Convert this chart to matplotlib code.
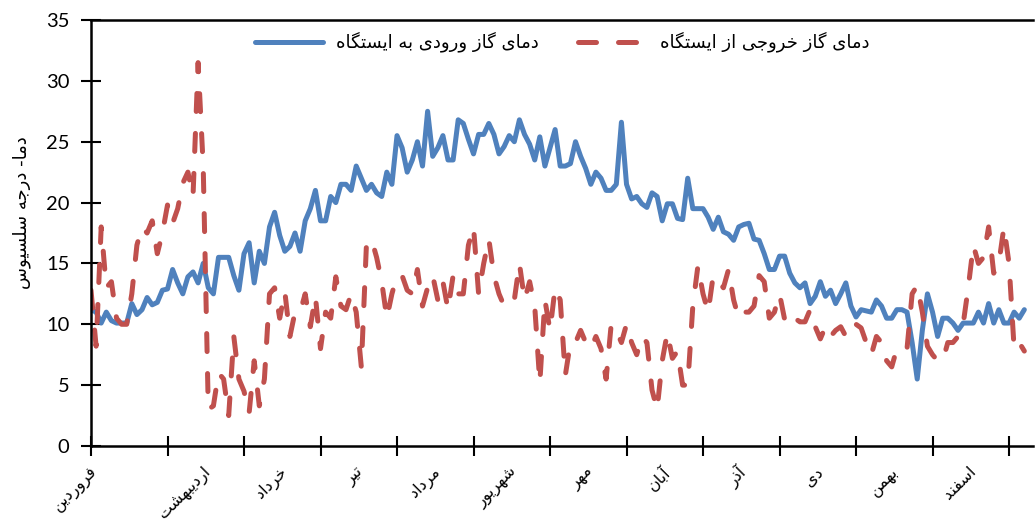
import numpy as np
import matplotlib
matplotlib.use("Agg")
import matplotlib.pyplot as plt
from matplotlib.transforms import blended_transform_factory

# sampling days (every second day of the year)
days = np.arange(0, 367, 2)

gas_in = [
    11.2, 11.0, 10.1, 11.0, 10.3, 10.1, 10.1, 10.1, 11.7, 10.8,
    11.2, 12.2, 11.6, 11.8, 12.8, 12.9, 14.5, 13.4, 12.5, 13.9,
    14.3, 13.4, 15.0, 13.0, 12.5, 15.5, 15.5, 15.5, 14.0, 12.8,
    15.8, 16.7, 13.4, 16.0, 15.0, 18.0, 19.2, 17.3, 16.0, 16.4,
    17.5, 16.0, 18.5, 19.5, 21.0, 18.5, 18.5, 20.5, 20.0, 21.5,
    21.5, 21.0, 23.0, 22.0, 21.0, 21.5, 20.8, 20.5, 22.5, 21.5,
    25.5, 24.5, 22.5, 23.5, 25.0, 23.0, 27.5, 23.8, 24.5, 25.5,
    23.5, 23.5, 26.8, 26.5, 25.2, 24.0, 25.6, 25.6, 26.5, 25.6,
    24.0, 24.6, 25.5, 25.0, 26.8, 25.6, 24.8, 23.5, 25.4, 23.0,
    24.5, 26.0, 23.0, 23.0, 23.2, 25.0, 23.8, 22.8, 21.5, 22.5,
    22.0, 21.0, 21.0, 21.5, 26.6, 21.5, 20.3, 20.5, 19.9, 19.6,
    20.8, 20.5, 18.5, 19.9, 19.9, 18.7, 18.6, 22.0, 19.5, 19.5,
    19.5, 18.8, 17.8, 18.8, 17.6, 17.4, 16.9, 18.0, 18.2, 18.3,
    17.0, 16.9, 15.8, 14.5, 14.5, 15.6, 15.6, 14.2, 13.4, 13.0,
    13.4, 11.7, 12.3, 13.5, 12.3, 12.8, 11.7, 12.5, 13.4, 11.5,
    10.6, 11.2, 11.1, 11.0, 12.0, 11.5, 10.5, 10.5, 11.2, 11.2,
    11.0, 8.5, 5.5, 9.5, 12.5, 11.0, 9.0, 10.5, 10.5, 10.1,
    9.5, 10.1, 10.1, 10.1, 11.0, 10.1, 11.7, 10.1, 11.2, 10.1,
    10.1, 11.0, 10.5, 11.2,
]

gas_out = [
    12.8, 8.2, 18.0, 13.0, 13.5, 10.5, 10.0, 10.0, 12.5, 16.5,
    18.0, 17.5, 18.5, 15.8, 17.5, 19.8, 18.3, 19.5, 21.6, 22.5,
    20.5, 31.5, 23.0, 3.0, 3.3, 6.0, 5.5, 2.5, 9.0, 5.5,
    4.5, 2.7, 7.0, 3.3, 5.5, 12.5, 13.0, 10.5, 12.7, 9.0,
    11.0, 11.0, 12.5, 9.8, 12.3, 8.0, 11.0, 10.5, 13.9, 11.5,
    11.2, 12.5, 11.0, 6.5, 16.5, 17.0, 15.5, 13.5, 10.5, 12.5,
    14.0, 14.0, 12.8, 12.5, 14.5, 11.5, 13.0, 14.0, 12.0, 13.5,
    11.2, 14.0, 12.5, 12.5, 16.5, 18.0, 12.5, 15.0, 17.0, 14.0,
    12.5, 11.5, 11.5, 12.0, 15.0, 12.0, 13.5, 11.5, 5.2, 12.0,
    9.5, 13.0, 12.0, 5.8, 8.5, 8.5, 9.5, 8.5, 8.0, 9.0,
    8.0, 5.5, 10.0, 9.5, 8.5, 10.0, 8.5, 7.5, 9.0, 8.5,
    4.6, 3.0, 7.0, 9.3, 7.2, 7.8, 5.0, 5.0, 11.5, 14.8,
    12.5, 11.0, 14.0, 13.5, 13.0, 14.5, 12.0, 10.5, 11.0, 11.0,
    11.5, 14.0, 13.5, 10.5, 11.0, 12.5, 10.4, 11.0, 10.5, 10.2,
    10.2, 11.2, 9.8, 8.8, 9.8, 9.0, 9.5, 9.8, 9.0, 10.0,
    10.0, 9.7, 8.5, 7.5, 9.0, 8.5, 7.0, 6.5, 8.0, 7.8,
    8.0, 12.5, 13.2, 11.0, 8.2, 7.5, 7.0, 7.0, 8.5, 8.5,
    9.0, 10.0, 13.0, 16.5, 15.0, 15.5, 18.0, 14.2, 15.0, 18.0,
    15.0, 8.0, 8.5, 7.8,
]

months = ["فروردین", "اردیبهشت", "خرداد", "تیر", "مرداد", "شهریور",
          "مهر", "آبان", "آذر", "دی", "بهمن", "اسفند"]
label_in = "دمای گاز ورودی به ایستگاه"
label_out = "دمای گاز خروجی از ایستگاه"
ylabel = "دما- درجه سلسیوس"

# Arabic presentation forms: (isolated, final[, initial, medial])
FORMS = {
    "\u0627": ("\uFE8D", "\uFE8E"), "\u0622": ("\uFE81", "\uFE82"),
    "\u062F": ("\uFEA9", "\uFEAA"), "\u0630": ("\uFEAB", "\uFEAC"),
    "\u0631": ("\uFEAD", "\uFEAE"), "\u0632": ("\uFEAF", "\uFEB0"),
    "\u0648": ("\uFEED", "\uFEEE"),
    "\u0628": ("\uFE8F", "\uFE90", "\uFE91", "\uFE92"),
    "\u062A": ("\uFE95", "\uFE96", "\uFE97", "\uFE98"),
    "\u062C": ("\uFE9D", "\uFE9E", "\uFE9F", "\uFEA0"),
    "\u062E": ("\uFEA5", "\uFEA6", "\uFEA7", "\uFEA8"),
    "\u0633": ("\uFEB1", "\uFEB2", "\uFEB3", "\uFEB4"),
    "\u0634": ("\uFEB5", "\uFEB6", "\uFEB7", "\uFEB8"),
    "\u0641": ("\uFED1", "\uFED2", "\uFED3", "\uFED4"),
    "\u06AF": ("\uFB92", "\uFB93", "\uFB94", "\uFB95"),
    "\u0644": ("\uFEDD", "\uFEDE", "\uFEDF", "\uFEE0"),
    "\u0645": ("\uFEE1", "\uFEE2", "\uFEE3", "\uFEE4"),
    "\u0646": ("\uFEE5", "\uFEE6", "\uFEE7", "\uFEE8"),
    "\u0647": ("\uFEE9", "\uFEEA", "\uFEEB", "\uFEEC"),
    "\u06CC": ("\uFBFC", "\uFBFD", "\uFBFE", "\uFBFF"),
}


def shape(s):
    # join letters and flip to visual order (no bidi engine available)
    s = s.replace("\u064A", "\u06CC")
    out = []
    for i, ch in enumerate(s):
        f = FORMS.get(ch)
        if f is None:
            out.append(ch)
            continue
        prev = s[i - 1] if i > 0 else ""
        nxt = s[i + 1] if i + 1 < len(s) else ""
        jp = prev in FORMS and len(FORMS[prev]) == 4
        jn = len(f) == 4 and nxt in FORMS
        if jp and jn:
            out.append(f[3])
        elif jp:
            out.append(f[1])
        elif jn:
            out.append(f[2])
        else:
            out.append(f[0])
    return "".join(reversed(out))


fa = dict(family="DejaVu Sans")
blue = "#4F81BD"
red = "#C0504D"

fig = plt.figure(figsize=(10.35, 5.25), dpi=100)
ax = fig.add_axes([91 / 1035, 1 - 446 / 525, 942 / 1035, 426 / 525])

l1, = ax.plot(days, gas_in, color=blue, lw=3.6, solid_joinstyle="round",
              solid_capstyle="round")
l2, = ax.plot(days, gas_out, color=red, lw=3.6, dashes=(3.6, 4.4),
              dash_capstyle="round", dash_joinstyle="round")

ax.set_xlim(0, 369.4)
ax.set_ylim(0, 35)
ax.set_yticks(range(0, 36, 5))
ax.set_xticks(np.arange(0, 361, 30))
ax.set_xticklabels([])
ax.tick_params(axis="both", direction="inout", length=15, width=1.5,
               color="black")
ax.tick_params(axis="y", labelsize=14.5, pad=8)
for lab in ax.get_yticklabels():
    lab.set_family("Lato")

for side in ("left", "bottom", "top"):
    ax.spines[side].set_linewidth(1.8)
    ax.spines[side].set_color("black")
ax.spines["right"].set_visible(False)

# month names, rotated under each month
trans = blended_transform_factory(ax.transData, ax.transAxes)
for i, name in enumerate(months):
    xpos = 1.5 if i == 0 else 30 * i + 16
    ax.text(xpos, -0.055, shape(name), transform=trans, rotation=45,
            rotation_mode="anchor", ha="right", va="center", fontsize=11.5,
            **fa)

fig.text(22 / 1035, 1 - 213 / 525, shape(ylabel), rotation=90,
         ha="center", va="center", fontsize=13, **fa)

leg = ax.legend([l1, l2], [shape(label_in), shape(label_out)], ncol=2,
                loc="center", bbox_to_anchor=(0.5, 0.948), frameon=False,
                handlelength=3.8, columnspacing=2.2, handletextpad=0.7,
                prop=dict(family="DejaVu Sans", size=13))

fig.savefig("out.png", dpi=100)
